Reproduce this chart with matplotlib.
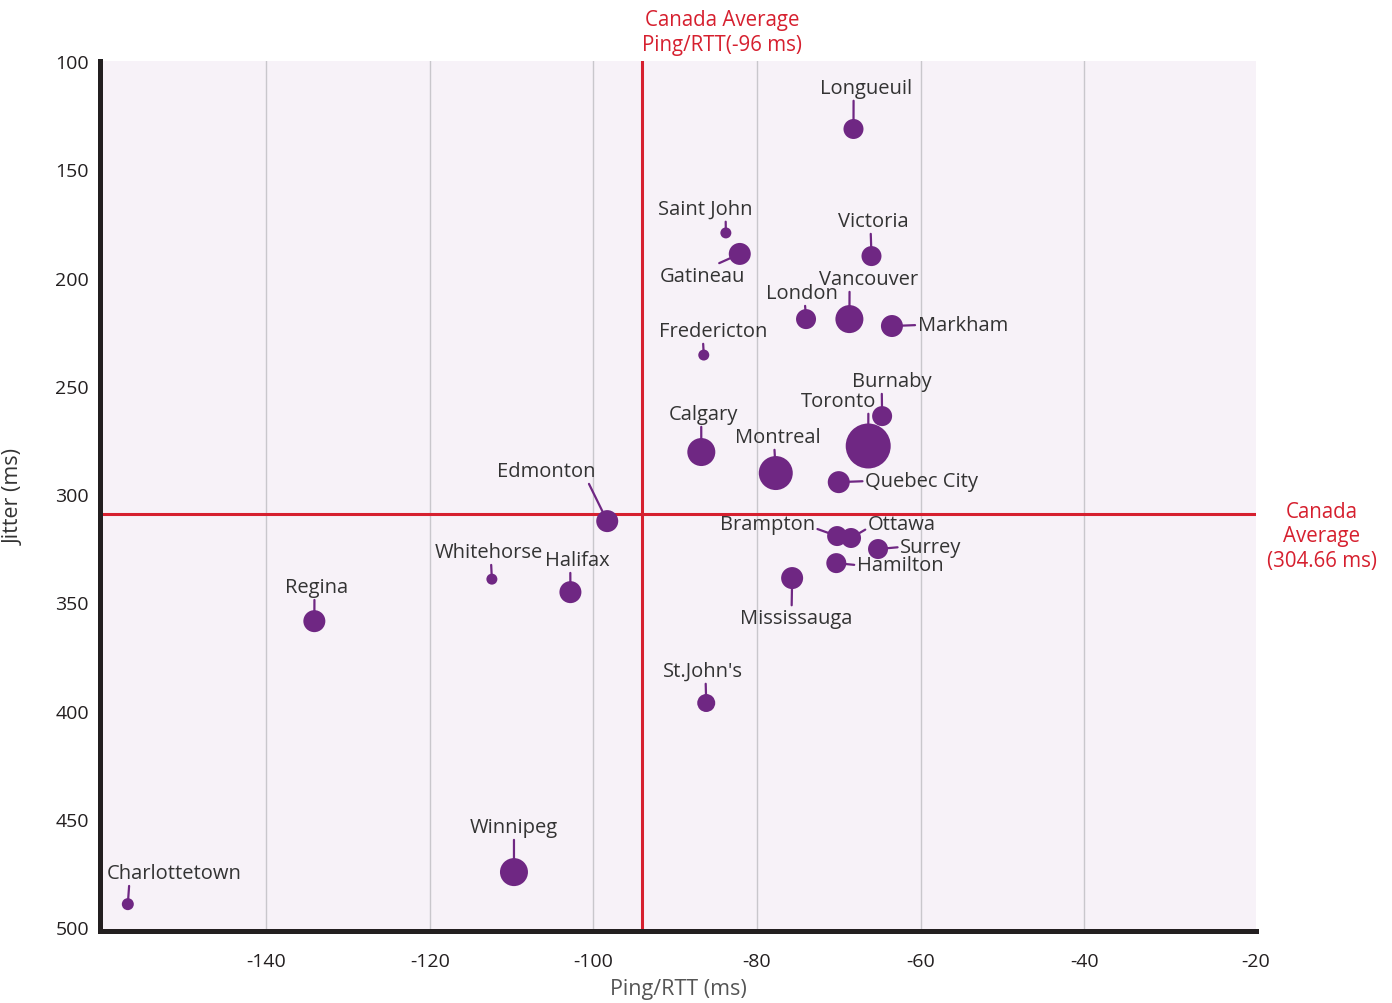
import matplotlib
matplotlib.use("Agg")
import matplotlib.pyplot as plt

plt.rcParams['font.family'] = ['Open Sans', 'DejaVu Sans']
plt.rcParams['axes.unicode_minus'] = False

cities = ["Longueuil", "Saint John", "Gatineau", "Victoria", "London", "Vancouver",
          "Markham", "Fredericton", "Burnaby", "Toronto", "Calgary", "Montreal",
          "Quebec City", "Edmonton", "Brampton", "Ottawa", "Surrey", "Hamilton",
          "Mississauga", "Whitehorse", "Halifax", "Regina", "St.John's", "Winnipeg",
          "Charlottetown"]
ping = [-68.2, -83.8, -82.1, -66.0, -74.0, -68.7,
        -63.5, -86.5, -64.7, -66.4, -86.8, -77.7,
        -70.0, -98.3, -70.2, -68.5, -65.2, -70.3,
        -75.7, -112.4, -102.8, -134.1, -86.2, -109.7,
        -156.9]
jitter = [131.4, 179.4, 189.1, 190.1, 219.2, 219.2,
          222.4, 235.8, 264.0, 277.8, 280.6, 290.3,
          294.5, 312.5, 319.4, 320.3, 325.4, 331.9,
          338.8, 339.3, 345.3, 358.7, 396.5, 474.6,
          489.4]
# relative bubble weight (read from bubble radius)
weight = [10, 5.5, 11, 10, 10, 14,
          11, 5.5, 10, 22.5, 14, 17,
          11, 11, 10, 10, 10, 10,
          11, 5.5, 11, 11, 9, 14,
          6]
avg_ping_line = -94.0
avg_jitter_line = 309.0
avg_ping_label = "Canada Average\nPing/RTT(-96 ms)"
avg_jitter_label = "Canada\nAverage\n(304.66 ms)"
x_ticks = [-140, -120, -100, -80, -60, -40, -20]
y_ticks = [100, 150, 200, 250, 300, 350, 400, 450, 500]

# label layout: offset of text centre in pixels (dx right, dy up) and the
# point of the text box where the leader line starts
label_layout = {
    "Longueuil": ((13, 41), (0.36, 0)), "Saint John": ((-21, 24), (0.72, 0)),
    "Gatineau": ((-37, -22), (0.62, 1)), "Victoria": ((2, 35), (0.46, 0)),
    "London": ((-4, 26), (0.54, 0)), "Vancouver": ((19, 40), (0.31, 0)),
    "Markham": ((71, 1), (0, 0.5)), "Fredericton": ((9, 24), (0.41, 0)),
    "Burnaby": ((10, 35), (0.37, 0)), "Toronto": ((-30, 45), (0.9, 0)),
    "Calgary": ((2, 38), (0.47, 0)), "Montreal": ((2, 36), (0.46, 0)),
    "Quebec City": ((83, 1), (0, 0.5)), "Edmonton": ((-61, 50), (0.92, 0)),
    "Brampton": ((-70, 12), (1, 0.3)), "Ottawa": ((51, 14), (0, 0.3)),
    "Surrey": ((53, 2), (0, 0.5)), "Hamilton": ((64, -2), (0, 0.5)),
    "Mississauga": ((4, -40), (0.46, 1)), "Whitehorse": ((-3, 27), (0.52, 0)),
    "Halifax": ((7, 32), (0.39, 0)), "Regina": ((2, 34), (0.47, 0)),
    "St.John's": ((-3, 32), (0.53, 0)), "Winnipeg": ((0, 45), (0.5, 0)),
    "Charlottetown": ((46, 31), (0.17, 0)),
}

DPI = 100
PURPLE = '#6F2783'
RED = '#D6202F'
BG = '#F7F2F8'
DARK = '#231F20'
TXT = '#333333'

fig = plt.figure(figsize=(13.92, 10.04), dpi=DPI)
ax = fig.add_axes([100/1392, 72/1004, 1156/1392, 870/1004])
ax.set_facecolor(BG)
XMAX = -19.0
ax.set_xlim(-160.3, XMAX)
ax.set_ylim(501.8, 100)

# last tick label sits at the right edge of the plot, as in the original
ax.set_xticks(x_ticks[:-1] + [XMAX])
ax.set_xticklabels([str(v) for v in x_ticks])
ax.set_yticks(y_ticks)
ax.xaxis.grid(True, color='#C9C7CC', lw=1.0)
ax.get_xgridlines()[-1].set_visible(False)
ax.yaxis.grid(False)
ax.set_axisbelow(True)
ax.tick_params(axis='both', length=0, labelsize=14, labelcolor=DARK)
ax.tick_params(axis='x', pad=15)
ax.tick_params(axis='y', pad=8)

for s in ['top', 'right']:
    ax.spines[s].set_visible(False)
for s in ['left', 'bottom']:
    ax.spines[s].set_color(DARK)
    ax.spines[s].set_linewidth(3.6)

ax.axvline(avg_ping_line, color=RED, lw=2.2, zorder=1.5)
ax.axhline(avg_jitter_line, color=RED, lw=2.2, zorder=1.5)

sizes = [(2 * r * 72 / DPI) ** 2 for r in weight]
ax.scatter(ping, jitter, s=sizes, color=PURPLE, edgecolors='none', zorder=3)

k = 72 / DPI
for c, x, y in zip(cities, ping, jitter):
    (dx, dy), rp = label_layout[c]
    ax.annotate(c, xy=(x, y), xytext=(dx * k, dy * k), textcoords='offset points',
                ha='center', va='center', fontsize=14.5, color=TXT, zorder=2,
                arrowprops=dict(arrowstyle='-', color=PURPLE, lw=1.6,
                                shrinkA=0, shrinkB=0, relpos=rp))

ax.set_xlabel("Ping/RTT (ms)", fontsize=15.5, color='#555555', labelpad=6)
ax.set_ylabel("Jitter (ms)", fontsize=15.5, color='#333333', labelpad=22)

fig.text(722/1392, 1 - 33/1004, avg_ping_label, ha='center', va='center',
         fontsize=14.8, color=RED, linespacing=1.2)
fig.text(1322/1392, 1 - 537/1004, avg_jitter_label, ha='center', va='center',
         fontsize=14.8, color=RED, linespacing=1.2)

fig.savefig("out.png", dpi=DPI, facecolor='white')
